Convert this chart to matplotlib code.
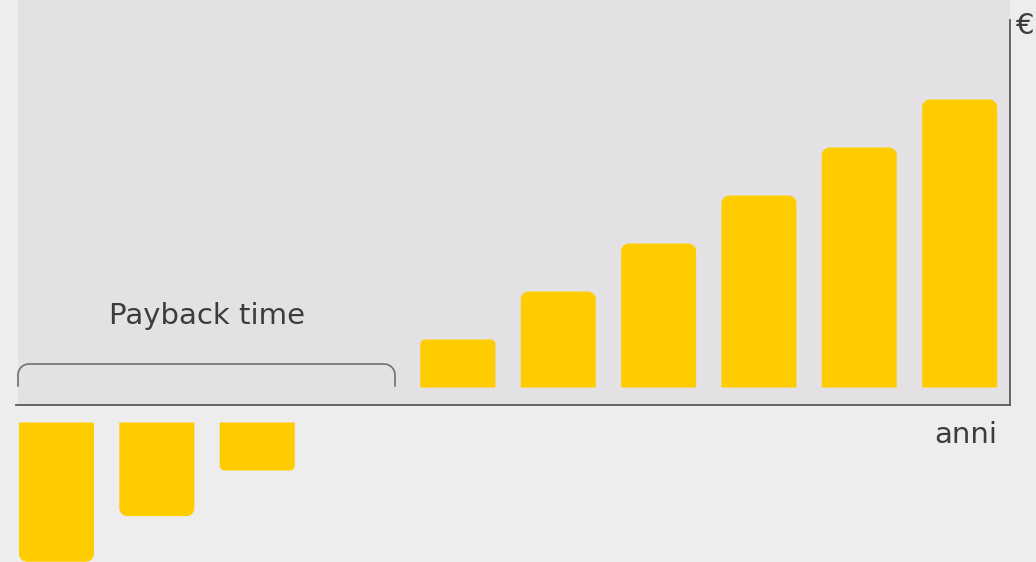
import numpy as np
import matplotlib.pyplot as plt
from matplotlib.patches import Rectangle, Polygon

# chart data
anni = np.arange(10)
flussi = [-2.9, -1.95, -1.0, 0, 1, 2, 3, 4, 5, 6]
payback_fine = 3  # the bracket covers the first years up to here

BAR = '#ffcc00'
TXT = '#3c3c3c'
LINE = '#5a5a5a'

# pixels per data unit, used to keep rounded corners round
PX_X = 100.35
PX_Y = 48.0
GAP = 17.5 / PX_Y


def rounded_far_end(x, y, w, h, r_px):
    # bar outline with the two corners away from the axis rounded
    s = 1 if h > 0 else -1
    rx, ry = r_px / PX_X, r_px / PX_Y * s
    top = y + h
    t = np.linspace(0, np.pi / 2, 12)
    left = np.column_stack([x + rx * (1 - np.cos(t)), top - ry * (1 - np.sin(t))])
    right = np.column_stack([x + w - rx * (1 - np.sin(t)), top - ry * (1 - np.cos(t))])
    return np.vstack([[x, y], left, right, [x + w, y]])


def main():
    fig = plt.figure(figsize=(10.36, 5.62), dpi=100)
    fig.patch.set_facecolor('#ededed')
    ax = fig.add_axes([0, 0, 1, 1])
    ax.set_xlim(-56.5 / PX_X, (1036 - 56.5) / PX_X)
    ax.set_ylim(-157 / PX_Y, 405 / PX_Y)
    ax.axis('off')

    x0 = (18 - 56.5) / PX_X
    x1 = (1010 - 56.5) / PX_X
    ax.add_patch(Rectangle((x0, 0), x1 - x0, 10, facecolor='#e3e1e4', edgecolor='none', zorder=0))

    vals = np.array(flussi, dtype=float)
    bottoms = np.sign(vals) * GAP
    bars = ax.bar(anni, vals, width=75 / PX_X, bottom=bottoms, color=BAR, edgecolor='none', zorder=2)

    for p, v in zip(bars, vals):
        p.set_visible(False)
        if v == 0:
            continue
        r_px = min(8.0, 0.1 * abs(p.get_height()) * PX_Y)
        pts = rounded_far_end(p.get_x(), p.get_y(), p.get_width(), p.get_height(), r_px)
        ax.add_patch(Polygon(pts, closed=True, facecolor=BAR, edgecolor='none', zorder=2))

    # axes lines
    ax.plot([(16 - 56.5) / PX_X, x1], [0, 0], color=LINE, lw=1.3, zorder=3)
    ax.plot([x1, x1], [0, (405 - 20) / PX_Y], color=LINE, lw=1.3, zorder=3)

    # bracket over the payback years
    bx0 = x0
    bx1 = payback_fine + (395 - 56.5 - 3 * PX_X) / PX_X
    by_top = (405 - 364) / PX_Y
    by_bot = (405 - 386) / PX_Y
    r = 11.0
    t = np.linspace(0, np.pi / 2, 20)
    left = np.column_stack([bx0 + r / PX_X * (1 - np.cos(t)), by_top - r / PX_Y * (1 - np.sin(t))])
    right = np.column_stack([bx1 - r / PX_X * (1 - np.cos(t[::-1])), by_top - r / PX_Y * (1 - np.sin(t[::-1]))])
    pts = np.vstack([[bx0, by_bot], left, right, [bx1, by_bot]])
    ax.plot(pts[:, 0], pts[:, 1], color='#707070', lw=1.2, zorder=3)

    font = ['DejaVu Sans']
    ax.text((bx0 + bx1) / 2, (405 - 316) / PX_Y, 'Payback time', ha='center', va='center',
            fontsize=21, color=TXT, family=font)
    ax.text((997 - 56.5) / PX_X, (405 - 435) / PX_Y, 'anni', ha='right', va='center',
            fontsize=21, color=TXT, family=font)
    ax.text((1016 - 56.5) / PX_X, (405 - 26) / PX_Y, '€', ha='left', va='center',
            fontsize=21, color=TXT, family=font)

    plt.savefig('out.png', dpi=100, facecolor=fig.get_facecolor())


if __name__ == '__main__':
    main()
